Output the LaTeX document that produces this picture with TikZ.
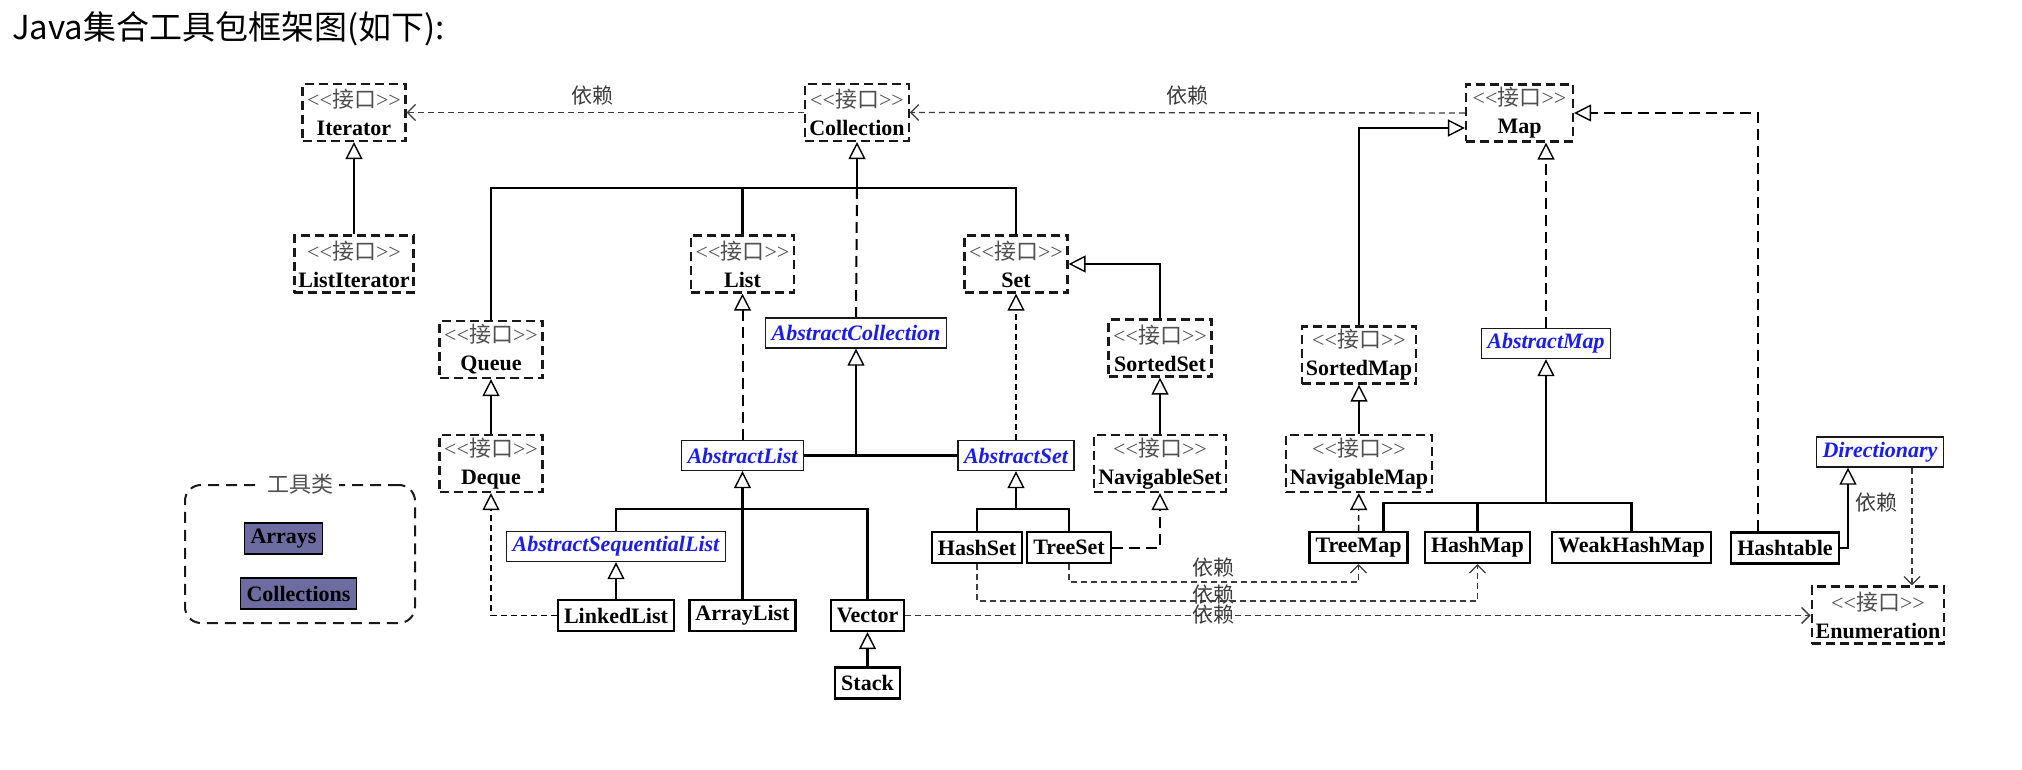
\documentclass[tikz,border=0pt]{standalone}
\usepackage{fontspec}
\setmainfont{Liberation Serif}
\newfontfamily\cjk{Noto Sans CJK SC}
\usetikzlibrary{arrows.meta}

\definecolor{absblue}{RGB}{28,28,235}
\definecolor{stereogray}{RGB}{80,80,80}
\definecolor{depgray}{RGB}{60,60,60}
\definecolor{toolfill}{RGB}{108,108,160}
\definecolor{boxline}{RGB}{25,25,25}

% <<接口>> line of an interface box
\newcommand{\stereo}{\textcolor{stereogray}{<{}<{\cjk 接口}>{}>}}

\tikzset{
  iface/.style={draw=boxline, line width=2.2pt, dash pattern=on 9pt off 5pt,
    align=center, minimum width=103pt, minimum height=57pt,
    inner xsep=4pt, inner ysep=0pt, font=\fontsize{22}{28}\selectfont},
  cls/.style={draw=black, line width=2.2pt, minimum height=31pt,
    inner xsep=6pt, inner ysep=0pt, font=\bfseries\fontsize{22}{26}\selectfont},
  abs/.style={draw=boxline, line width=1.4pt, minimum height=30pt,
    inner xsep=6pt, inner ysep=0pt, text=absblue,
    font=\bfseries\itshape\fontsize{22}{26}\selectfont},
  tool/.style={cls, fill=toolfill, line width=1.4pt},
  toolgroup/.style={draw=boxline, line width=2pt, dash pattern=on 11pt off 7pt,
    rounded corners=16pt, minimum width=230pt, minimum height=138pt},
  deplabel/.style={text=depgray, inner sep=0pt, font=\cjk\fontsize{21}{24}\selectfont},
  link/.style={draw=black, line width=2.2pt},
  longdash/.style={dash pattern=on 11pt off 6pt, line width=2pt},
  shortdash/.style={dash pattern=on 6pt off 4pt, line width=1.4pt},
  tri/.style={-{Triangle[open, length=17pt, width=17pt, line width=1.4pt]}},
  inh/.style={link, tri},
  impl/.style={link, longdash, tri},
  implthin/.style={link, shortdash, tri},
  dep/.style={link, shortdash, draw=depgray,
    -{Straight Barb[length=8pt, width=16pt, line width=1.3pt]}},
}

\begin{document}
\begin{tikzpicture}[x=1pt,y=-1pt]
\fill[white] (0,0) rectangle (2022,770);
\useasboundingbox (0,0) rectangle (2022,770);

\node[anchor=west, inner sep=0pt, font=\cjk\fontsize{33}{38}\selectfont] (title) at (12,29) {Java集合工具包框架图(如下):};

% interfaces
\node[iface] (iterator) at (354,112.5) {\stereo\\\textbf{Iterator}};
\node[iface] (collection) at (857,112.5) {\stereo\\\textbf{Collection}};
\node[iface, minimum width=107pt] (map) at (1519.5,113) {\stereo\\\textbf{Map}};
\node[iface] (listiterator) at (354,264) {\stereo\\\textbf{ListIterator}};
\node[iface] (list) at (742.5,264) {\stereo\\\textbf{List}};
\node[iface] (set) at (1016,264) {\stereo\\\textbf{Set}};
\node[iface] (queue) at (491,349.5) {\stereo\\\textbf{Queue}};
\node[iface] (deque) at (491,463.5) {\stereo\\\textbf{Deque}};
\node[iface] (sortedset) at (1160,348) {\stereo\\\textbf{SortedSet}};
\node[iface] (navigableset) at (1160,463.5) {\stereo\\\textbf{NavigableSet}};
\node[iface] (sortedmap) at (1359,355) {\stereo\\\textbf{SortedMap}};
\node[iface] (navigablemap) at (1359,463.5) {\stereo\\\textbf{NavigableMap}};
\node[iface] (enumeration) at (1878,615) {\stereo\\\textbf{Enumeration}};

% abstract classes
\node[abs] (abscollection) at (856,333) {AbstractCollection};
\node[abs] (absmap) at (1546,343.5) {AbstractMap};
\node[abs] (abslist) at (742.5,455.5) {AbstractList};
\node[abs] (absset) at (1016,455.5) {AbstractSet};
\node[abs] (directionary) at (1880,452) {Directionary};
\node[abs] (absseqlist) at (616,546.5) {AbstractSequentialList};

% classes
\node[cls] (linkedlist) at (616,615.5) {LinkedList};
\node[cls] (arraylist) at (742.5,615.5) {ArrayList};
\node[cls] (vector) at (867.5,615.5) {Vector};
\node[cls] (stack) at (867.5,683) {Stack};
\node[cls] (hashset) at (977,547.5) {HashSet};
\node[cls] (treeset) at (1069,547.5) {TreeSet};
\node[cls] (treemap) at (1358.5,547.5) {TreeMap};
\node[cls] (hashmap) at (1477.5,547.5) {HashMap};
\node[cls] (weakhashmap) at (1631.5,547.5) {WeakHashMap};
\node[cls] (hashtable) at (1785,548) {Hashtable};

% tools
\node[toolgroup] (tools) at (300,554) {};
\node[fill=white, inner xsep=6pt, inner ysep=0pt, text=stereogray,
  font=\cjk\fontsize{22}{26}\selectfont] (toolslabel) at (tools.north) {工具类};
\node[tool] (arrays) at (283.5,538.5) {Arrays};
\node[tool] (collections) at (298.5,593.5) {Collections};

\coordinate (cbus) at (0,188);
\coordinate (lbus) at (0,509);
\coordinate (mbus) at (0,503);

% collection side
\draw[inh] (listiterator) -- (iterator);
\draw[link] (queue.north) |- (cbus -| set.north) -- (set.north);
\draw[link] (list.north) -- (list.north |- cbus);
\draw[inh] (collection.south |- cbus) -- (collection.south);
\draw[link, longdash] (collection.south |- cbus) -- (abscollection.north);
\draw[inh] (deque) -- (queue);
\draw[impl] (abslist) -- (list);
\draw[implthin] (absset) -- (set);
\draw[inh] (sortedset.north) |- (set.east);
\draw[inh] (navigableset) -- (sortedset);
\draw[link] (abslist.east) -- (absset.west);
\draw[inh] (abscollection.south |- abslist.east) -- (abscollection.south);
\draw[inh] (arraylist) -- (abslist);
\draw[link] (absseqlist.north) |- (lbus -| vector.north) -- (vector.north);
\draw[inh] (linkedlist) -- (absseqlist);
\draw[inh] (stack) -- (vector);
\draw[inh] (absset.south |- lbus) -- (absset.south);
\draw[link] (hashset.north) |- (lbus -| treeset.north) -- (treeset.north);
\draw[impl] (treeset.east) -| (navigableset.south);
\draw[implthin] (linkedlist.west) -| (deque.south);

% map side
\draw[inh] (sortedmap.north) |- ([yshift=-15pt]map.west);
\draw[inh] (navigablemap) -- (sortedmap);
\draw[implthin] (treemap) -- (navigablemap);
\draw[impl] (absmap.north) -- (absmap.north |- map.south);
\draw[inh] (absmap.south |- mbus) -- (absmap.south);
\draw[link] ([xshift=25pt]treemap.north) |- (mbus -| weakhashmap.north) -- (weakhashmap.north);
\draw[link] (hashmap.north) -- (hashmap.north |- mbus);
\draw[impl] ([xshift=-27pt]hashtable.north) |- (map.east);
\draw[inh] (hashtable.east) -| ([xshift=-32pt]directionary.south);

% dependencies
\draw[dep] (collection.west) -- (iterator.east);
\draw[dep] (map.west) -- (collection.east);
\draw[dep] (treeset.south) -- ++(0,18) -| (treemap.south);
\draw[dep] (hashset.south) -- ++(0,37) -| (hashmap.south);
\draw[dep] (vector.east) -- (vector.east -| enumeration.west);
\draw[dep] ([xshift=32pt]directionary.south) -- ([xshift=32pt]directionary.south |- enumeration.north);
\node[deplabel] (dep1) at (592,96) {依赖};
\node[deplabel] (dep2) at (1187,96) {依赖};
\node[deplabel] (dep3) at (1213,568) {依赖};
\node[deplabel] (dep4) at (1213,595) {依赖};
\node[deplabel] (dep5) at (1213,615) {依赖};
\node[deplabel] (dep6) at (1876,503) {依赖};
\end{tikzpicture}
\end{document}
